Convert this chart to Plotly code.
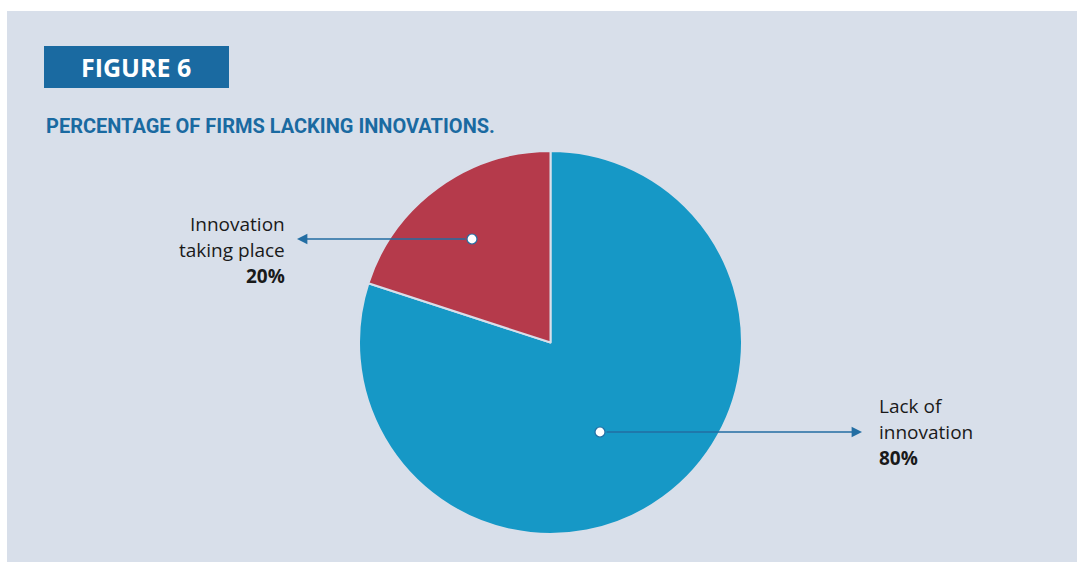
import plotly.graph_objects as go

# ---- data ----
categories = ["Lack of innovation", "Innovation taking place"]
values = [80, 20]
label_lines = [["Lack of", "innovation"], ["Innovation", "taking place"]]
pct_labels = ["80%", "20%"]
fig_label = "FIGURE 6"
subtitle = "PERCENTAGE OF FIRMS LACKING INNOVATIONS."

# ---- style ----
W, H = 1078, 563
BG = "#d8dfea"
PIE_COLORS = ["#1698c6", "#b53a4b"]
TITLE_BLUE = "#1a6aa1"
ARROW = "#236ea3"

def px(x):
    return x / W

def py(y):
    return 1 - y / H

cx, cy, r = 550.5, 342.5, 191.5

fig = go.Figure()
fig.add_trace(go.Pie(
    labels=categories, values=values, sort=False, direction="clockwise",
    rotation=0, textinfo="none", hoverinfo="none", showlegend=False,
    marker=dict(colors=PIE_COLORS, line=dict(color=BG, width=2)),
    domain=dict(x=[px(cx - r), px(cx + r)], y=[py(cy + r), py(cy - r)]),
))

shapes = [
    dict(type="rect", xref="paper", yref="paper", x0=px(7), x1=px(1077),
         y0=py(562), y1=py(11), fillcolor=BG, line=dict(width=0), layer="below"),
    dict(type="rect", xref="paper", yref="paper", x0=px(44), x1=px(229),
         y0=py(88), y1=py(46), fillcolor=TITLE_BLUE, line=dict(width=0), layer="below"),
]

annotations = [
    dict(x=px(136), y=py(67), xref="paper", yref="paper", text="<b>" + fig_label + "</b>",
         showarrow=False, font=dict(family="Open Sans", size=25, color="white"),
         xanchor="center", yanchor="middle"),
    dict(x=px(44), y=py(126), xref="paper", yref="paper", text="<b>" + subtitle + "</b>",
         showarrow=False, font=dict(family="Roboto, sans-serif", size=20, color=TITLE_BLUE),
         xanchor="left", yanchor="middle"),
]

# callouts: (dot x, dot y, arrow head x, text anchor x, align, first line y)
callouts = [
    (600, 432, 862, 877, "left", 406),
    (472, 239, 297, 287, "right", 224),
]
for i, (dx, dy, hx, tx, al, ty) in enumerate(callouts):
    annotations.append(dict(
        x=px(hx), y=py(dy), xref="paper", yref="paper", text="", showarrow=True,
        ax=dx - hx, ay=0, axref="pixel", ayref="pixel", arrowhead=2, arrowsize=1.3,
        arrowwidth=1.6, arrowcolor=ARROW, standoff=0, startstandoff=5,
    ))
    shapes.append(dict(
        type="circle", xref="paper", yref="paper", xsizemode="pixel", ysizemode="pixel",
        xanchor=px(dx), yanchor=py(dy), x0=-5, x1=5, y0=-5, y1=5,
        fillcolor="white", line=dict(color=ARROW, width=1.2), layer="above",
    ))
    lines = label_lines[i] + ["<b>" + pct_labels[i] + "</b>"]
    for j, t in enumerate(lines):
        annotations.append(dict(
            x=px(tx), y=py(ty + j * 26), xref="paper", yref="paper", text=t,
            showarrow=False, xanchor=al, yanchor="middle", align=al,
            font=dict(family="Open Sans", size=19, color="#1a1a1a"),
        ))

fig.update_layout(
    width=W, height=H, margin=dict(l=0, r=0, t=0, b=0),
    paper_bgcolor="white", plot_bgcolor="white",
    shapes=shapes, annotations=annotations,
)

fig.write_html("out.html", config={"displayModeBar": False})
